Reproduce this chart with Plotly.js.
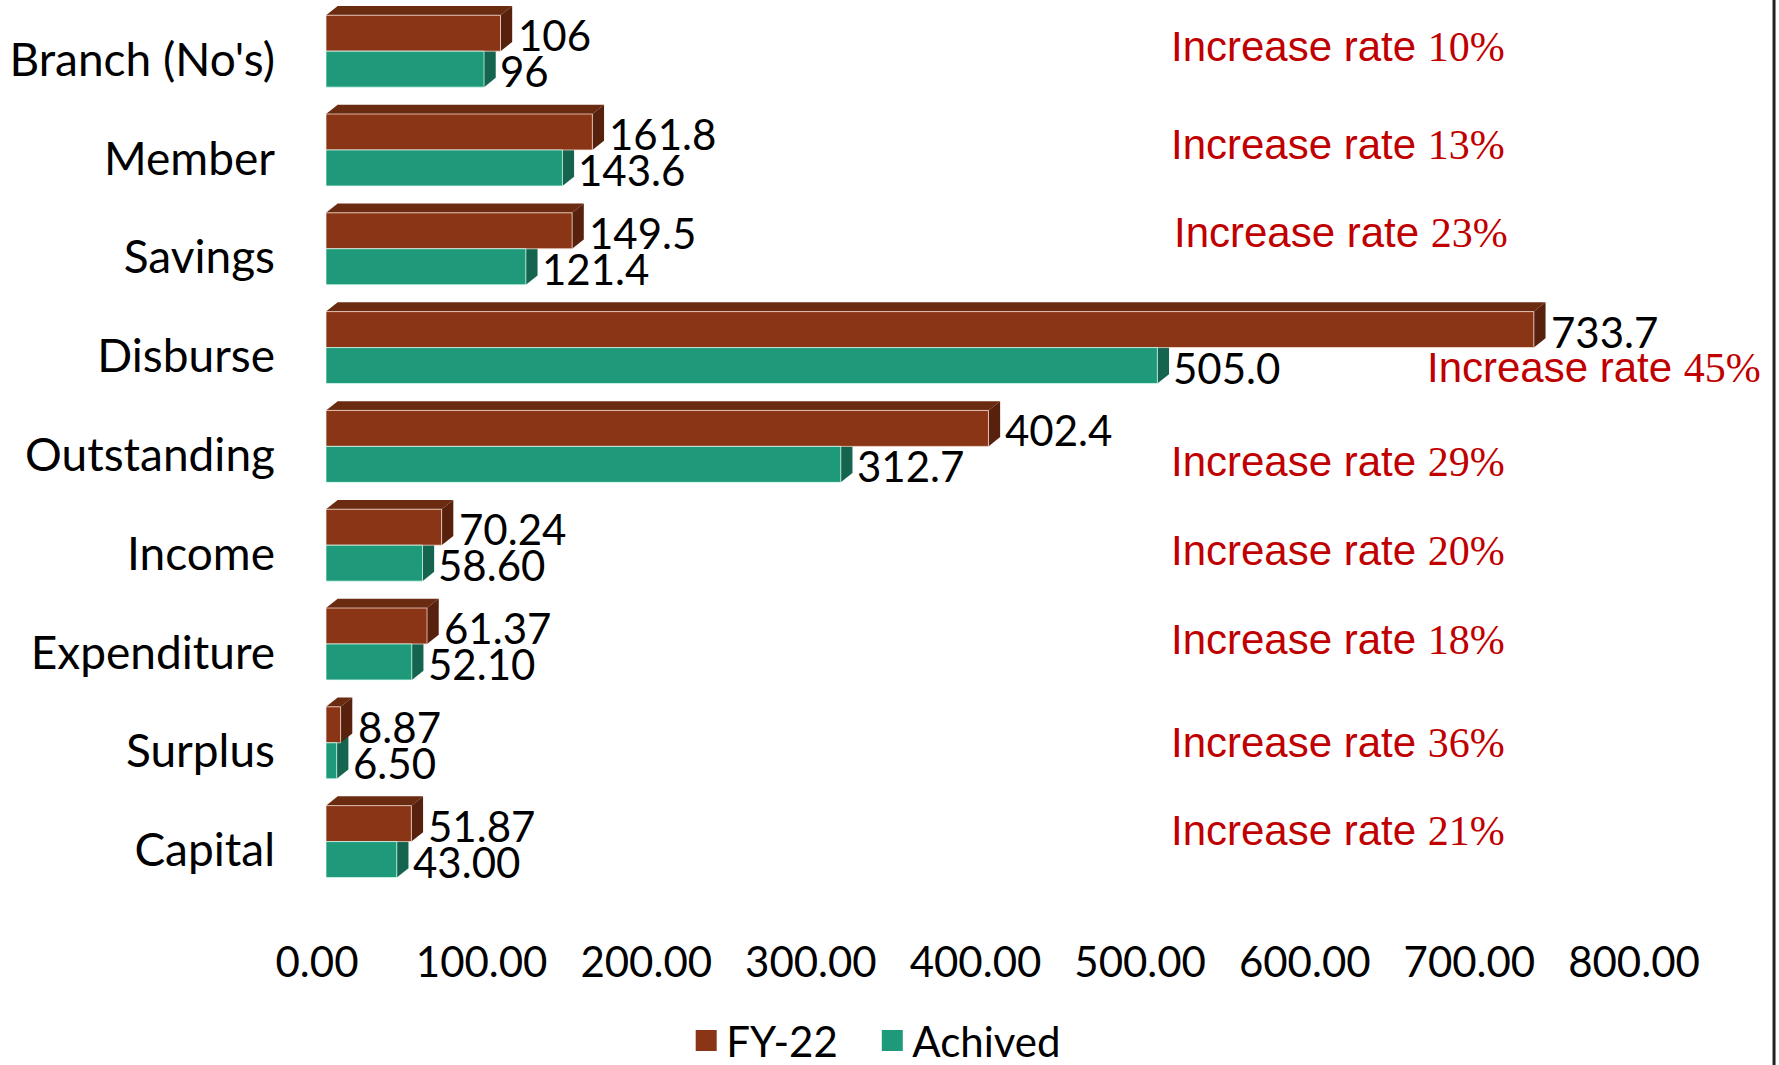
<!DOCTYPE html>
<html>
<head>
<meta charset="utf-8">
<script src="https://cdn.plot.ly/plotly-3.0.1.min.js"></script>
<style>
  html, body { margin: 0; padding: 0; background: #ffffff; }
  #chart { width: 1779px; height: 1065px; }
</style>
</head>
<body>
<div id="chart"></div>
<script>
// ---- data ----
const categories = ["Branch (No's)", "Member", "Savings", "Disburse", "Outstanding", "Income", "Expenditure", "Surplus", "Capital"];
const fy22 = [106, 161.8, 149.5, 733.7, 402.4, 70.24, 61.37, 8.87, 51.87];
const achived = [96, 143.6, 121.4, 505.0, 312.7, 58.60, 52.10, 6.50, 43.00];
const fy22Labels = ["106", "161.8", "149.5", "733.7", "402.4", "70.24", "61.37", "8.87", "51.87"];
const achivedLabels = ["96", "143.6", "121.4", "505.0", "312.7", "58.60", "52.10", "6.50", "43.00"];
const increaseRates = ["10%", "13%", "23%", "45%", "29%", "20%", "18%", "36%", "21%"];
const xTicks = [0, 100, 200, 300, 400, 500, 600, 700, 800];
const seriesNames = ["FY-22", "Achived"];

// ---- layout / style parameters (not data) ----
const rateLabelX = [512, 512, 514, 667.5, 512, 512, 512, 512, 512];
const rateLabelDy = [-0.046, -0.059, -0.16, 0.206, 0.15, 0.058, -0.046, 0.0, -0.115];
const barW = 0.364;       // bar thickness in category units
const depthX = 7.1;       // 3D depth, x data units
const depthY = 0.094;     // 3D depth, category units
const colFY = '#8A3516', colFYTop = '#6A2B11', colFYSide = '#58210D';
const colAC = '#1E9A7A', colACSide = '#14644F';
const numFont = 'Lato, "Open Sans", sans-serif';

const idx = categories.map((c, i) => i);

const traces = [
  {
    type: 'bar', orientation: 'h', name: seriesNames[0],
    x: fy22, y: idx, width: barW, offset: -barW,
    marker: { color: colFY, line: { color: 'rgba(255,235,225,0.7)', width: 1 } },
    showlegend: false, hoverinfo: 'skip'
  },
  {
    type: 'bar', orientation: 'h', name: seriesNames[1],
    x: achived, y: idx, width: barW, offset: 0,
    marker: { color: colAC, line: { color: 'rgba(225,255,245,0.7)', width: 1 } },
    showlegend: false, hoverinfo: 'skip'
  },
  {
    type: 'scatter', mode: 'markers', name: seriesNames[0], x: [null], y: [null],
    marker: { symbol: 'square', size: 16, color: colFY, line: { color: colFY, width: 5 } },
    showlegend: true, legend: 'legend', hoverinfo: 'skip'
  },
  {
    type: 'scatter', mode: 'markers', name: seriesNames[1], x: [null], y: [null],
    marker: { symbol: 'square', size: 16, color: colAC, line: { color: colAC, width: 5 } },
    showlegend: true, legend: 'legend2', hoverinfo: 'skip'
  }
];

function poly(pts) {
  return 'M' + pts.map(p => p[0] + ',' + p[1]).join(' L') + ' Z';
}

const shapes = [];
idx.forEach(i => {
  const v2 = achived[i];
  shapes.push({
    type: 'path', xref: 'x', yref: 'y', layer: 'below',
    path: poly([[v2, i], [v2 + depthX, i - depthY], [v2 + depthX, i + barW - depthY], [v2, i + barW]]),
    fillcolor: colACSide, line: { width: 0 }
  });
});
idx.forEach(i => {
  const v = fy22[i];
  const top = i - barW;
  shapes.push({
    type: 'path', xref: 'x', yref: 'y', layer: 'below',
    path: poly([[0, top], [v, top], [v + depthX, top - depthY], [depthX, top - depthY]]),
    fillcolor: colFYTop, line: { width: 0 }
  });
  shapes.push({
    type: 'path', xref: 'x', yref: 'y', layer: 'below',
    path: poly([[v, top], [v + depthX, top - depthY], [v + depthX, i - depthY], [v, i]]),
    fillcolor: colFYSide, line: { width: 0 }
  });
});
// right frame line
shapes.push({
  type: 'line', xref: 'paper', yref: 'paper',
  x0: 1.0995, x1: 1.0995, y0: -0.2, y1: 1.05,
  line: { color: '#222222', width: 3 }
});

const annotations = [];
idx.forEach(i => {
  annotations.push({
    x: fy22[i], y: i - barW / 2, xref: 'x', yref: 'y',
    text: fy22Labels[i], showarrow: false, xanchor: 'left', yanchor: 'middle',
    xshift: 15, yshift: -2,
    font: { family: numFont, size: 42, color: '#000000' }
  });
  annotations.push({
    x: achived[i], y: i + barW / 2, xref: 'x', yref: 'y',
    text: achivedLabels[i], showarrow: false, xanchor: 'left', yanchor: 'middle',
    xshift: 14, yshift: -2,
    font: { family: numFont, size: 42, color: '#000000' }
  });
  annotations.push({
    x: rateLabelX[i], y: i + rateLabelDy[i], xref: 'x', yref: 'y',
    text: 'Increase rate <span style="font-family:Liberation Serif">' + increaseRates[i] + '</span>',
    showarrow: false, xanchor: 'left', yanchor: 'middle',
    font: { family: '"Liberation Sans", Arial, sans-serif', size: 42, color: '#C00000' }
  });
});

const legendCommon = {
  orientation: 'h', xanchor: 'left', y: -0.107, yanchor: 'middle',
  font: { family: numFont, size: 42, color: '#000000' },
  itemsizing: 'trace', bgcolor: 'rgba(0,0,0,0)'
};

const layout = {
  width: 1779, height: 1065,
  margin: { l: 326, r: 136, t: 0, b: 125, pad: 0, autoexpand: false },
  paper_bgcolor: '#ffffff', plot_bgcolor: '#ffffff',
  barmode: 'overlay',
  showlegend: true,
  hovermode: false,
  xaxis: {
    range: [0, 800], tickvals: xTicks, tickformat: '.2f',
    showgrid: false, zeroline: false, showline: false, ticks: '',
    ticklabelshift: -9, ticklabelstandoff: -6, automargin: false,
    tickfont: { family: numFont, size: 42, color: '#000000' }
  },
  yaxis: {
    range: [8.996, -0.518],
    tickvals: idx.map(i => i + 0.086), ticktext: categories,
    showgrid: false, zeroline: false, showline: false, ticks: '',
    ticklabelstandoff: 50, automargin: false,
    tickfont: { family: numFont, size: 46, color: '#000000' }
  },
  legend: Object.assign({}, legendCommon, { x: 0.2735 }),
  legend2: Object.assign({}, legendCommon, { x: 0.4148 }),
  shapes: shapes,
  annotations: annotations
};

Plotly.newPlot('chart', traces, layout, { displayModeBar: false, staticPlot: true });
</script>
</body>
</html>
